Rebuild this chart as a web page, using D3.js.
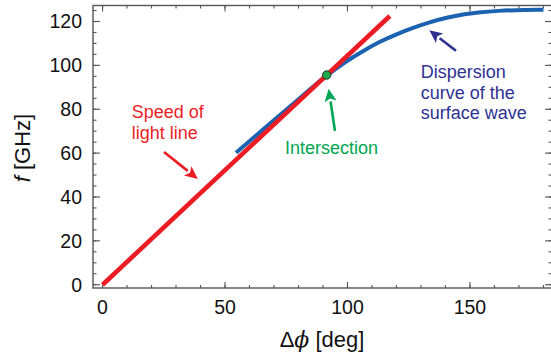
<!DOCTYPE html>
<html>
<head>
<meta charset="utf-8">
<script src="https://cdn.jsdelivr.net/npm/d3@7"></script>
<style>
  body { margin: 0; background: #fff; }
  svg { display: block; font-family: "Liberation Sans", Arial, Helvetica, sans-serif; }
</style>
</head>
<body>
<svg id="chart" width="551" height="360"></svg>
<script>
// axis ticks
const phiTicks = [0, 50, 100, 150];
const phiMinor = d3.range(0, 190, 10);
const freqTicks = [0, 20, 40, 60, 80, 100, 120];
const freqMinor = d3.range(0, 130, 5);

// speed of light line (deg, GHz)
const lightPhi = [0, 117.3];
const lightFreq = [0, 122.5];

// dispersion curve of the surface wave
const dispPhi = [54.5, 70, 80, 91.5, 100, 106.4, 113.3, 120, 126.9, 133, 140.5, 148, 154, 162, 168, 180];
const dispFreq = [60.2, 75, 84.6, 95.6, 102.3, 106.6, 110.9, 114.2, 117.2, 119.5, 121.8, 123.4, 124.3, 124.9, 125.2, 125.4];

// intersection point
const crossPhi = 91.5;
const crossFreq = 95.6;

const plotL = 93, plotR = 552, plotT = 5.5, plotB = 288;

const x = d3.scaleLinear().domain([-3.9, 183.5]).range([plotL, plotR]);
const y = d3.scaleLinear().domain([-1.5, 127.3]).range([plotB, plotT]);

const svg = d3.select('#chart');
const frame = '#555';

// frame
svg.append('rect')
  .attr('x', plotL).attr('y', plotT)
  .attr('width', plotR - plotL).attr('height', plotB - plotT)
  .attr('fill', 'none').attr('stroke', frame).attr('stroke-width', 1.4);

// inward ticks on all four sides
function xTicks(vals, len) {
  svg.append('g').selectAll('line').data(vals).join('line')
    .attr('x1', d => x(d)).attr('x2', d => x(d))
    .attr('y1', plotB).attr('y2', plotB - len)
    .attr('stroke', frame).attr('stroke-width', 1.1);
  svg.append('g').selectAll('line').data(vals).join('line')
    .attr('x1', d => x(d)).attr('x2', d => x(d))
    .attr('y1', plotT).attr('y2', plotT + len)
    .attr('stroke', frame).attr('stroke-width', 1.1);
}
function yTicks(vals, len) {
  svg.append('g').selectAll('line').data(vals).join('line')
    .attr('y1', d => y(d)).attr('y2', d => y(d))
    .attr('x1', plotL).attr('x2', plotL + len)
    .attr('stroke', frame).attr('stroke-width', 1.1);
  svg.append('g').selectAll('line').data(vals).join('line')
    .attr('y1', d => y(d)).attr('y2', d => y(d))
    .attr('x1', plotR).attr('x2', plotR - len)
    .attr('stroke', frame).attr('stroke-width', 1.1);
}
xTicks(phiMinor, 3);
xTicks(phiTicks, 6);
yTicks(freqMinor, 3.5);
yTicks(freqTicks, 7);

// tick labels
svg.append('g').selectAll('text').data(phiTicks).join('text')
  .attr('x', d => x(d)).attr('y', 314)
  .attr('text-anchor', 'middle')
  .attr('font-size', 19.5).attr('fill', '#111')
  .text(d => d);

svg.append('g').selectAll('text').data(freqTicks).join('text')
  .attr('x', 82).attr('y', d => y(d))
  .attr('dy', '0.35em')
  .attr('text-anchor', 'end')
  .attr('font-size', 19.5).attr('fill', '#111')
  .text(d => d);

// axis titles
const xt = svg.append('text')
  .attr('x', 322).attr('y', 347)
  .attr('text-anchor', 'middle')
  .attr('font-size', 22).attr('fill', '#111');
xt.append('tspan').text('\u0394');
xt.append('tspan').attr('font-family', '"DejaVu Serif", serif').attr('font-style', 'italic').text('\u03d5');
xt.append('tspan').text(' [deg]');

const yt = svg.append('text')
  .attr('transform', 'translate(30,148) rotate(-90)')
  .attr('text-anchor', 'middle')
  .attr('font-size', 22).attr('fill', '#111');
yt.append('tspan').attr('font-style', 'italic').text('f');
yt.append('tspan').text(' [GHz]');

// curves
svg.append('path')
  .datum(d3.zip(dispPhi, dispFreq))
  .attr('d', d3.line().x(d => x(d[0])).y(d => y(d[1])).curve(d3.curveBasis))
  .attr('fill', 'none').attr('stroke', '#1b62b0').attr('stroke-width', 4);

svg.append('path')
  .datum(d3.zip(lightPhi, lightFreq))
  .attr('d', d3.line().x(d => x(d[0])).y(d => y(d[1])))
  .attr('fill', 'none').attr('stroke', '#ec1c24').attr('stroke-width', 4.6);

svg.append('circle')
  .attr('cx', x(crossPhi)).attr('cy', y(crossFreq)).attr('r', 4.2)
  .attr('fill', '#1fa84a').attr('stroke', '#1a3a20').attr('stroke-width', 1);

// arrows: tail and tip in data units
function arrow(from, to, color) {
  const x1 = x(from[0]), y1 = y(from[1]);
  const x2 = x(to[0]), y2 = y(to[1]);
  const a = Math.atan2(y2 - y1, x2 - x1);
  const hl = 13, hw = 6;
  const bx = x2 - hl * Math.cos(a), by = y2 - hl * Math.sin(a);
  svg.append('line')
    .attr('x1', x1).attr('y1', y1).attr('x2', bx).attr('y2', by)
    .attr('stroke', color).attr('stroke-width', 2.6);
  const pts = [
    [x2, y2],
    [bx + hw * Math.sin(a), by - hw * Math.cos(a)],
    [bx + 3 * Math.cos(a), by + 3 * Math.sin(a)],
    [bx - hw * Math.sin(a), by + hw * Math.cos(a)]
  ];
  svg.append('path').attr('d', 'M' + pts.join('L') + 'Z').attr('fill', color);
}
arrow([25.1, 60.5], [38.9, 48.2], '#ec1c24');
arrow([94.9, 70.1], [92.3, 89.4], '#00a651');
arrow([144.3, 106.7], [133.4, 116.0], '#2e3192');

// annotations
function label(lines, px, py, color) {
  svg.append('g').selectAll('text').data(lines).join('text')
    .attr('x', x(px)).attr('y', (d, i) => y(py) + i * 20.5)
    .attr('font-size', 18).attr('fill', color)
    .text(d => d);
}
label(['Speed of', 'light line'], 11.9, 75.8, '#ec1c24');
label(['Intersection'], 74.5, 59.4, '#00a651');
label(['Dispersion', 'curve of the', 'surface wave'], 129.9, 94.1, '#2e3192');
</script>
</body>
</html>
